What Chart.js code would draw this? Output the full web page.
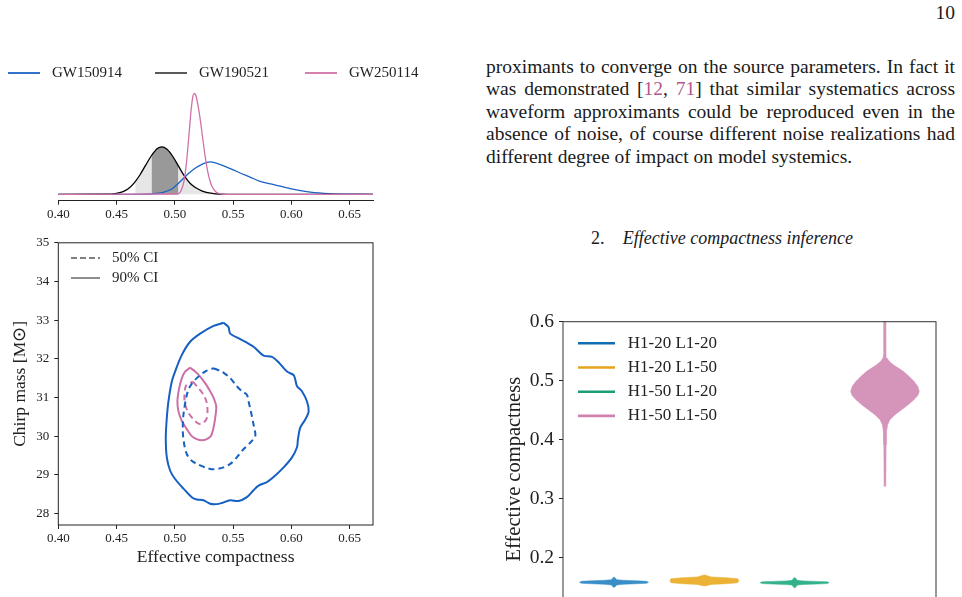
<!DOCTYPE html>
<html>
<head>
<meta charset="utf-8">
<script src="https://cdn.jsdelivr.net/npm/chart.js@4.4.1/dist/chart.umd.min.js"></script>
<style>
html, body { margin: 0; padding: 0; background: #fff; width: 962px; height: 597px; overflow: hidden; }
canvas { position: absolute; }
.txt { position: absolute; font-family: 'Liberation Serif', serif; color: #1a1a1a; white-space: nowrap; }
.para { position: absolute; left: 486px; top: 55.8px; width: 469px; font-family: 'Liberation Serif', serif; font-size: 19.5px; line-height: 22.5px; color: #1a1a1a; }
.para div { text-align: justify; text-align-last: justify; white-space: nowrap; }
.para div.last { text-align-last: left; }
.cite { color: #b5578f; }
</style>
</head>
<body>

<div class="txt" style="left:900px; top:2.2px; width:55px; text-align:right; font-size:19.5px; line-height:22.4px;">10</div>

<div class="para">
  <div>proximants to converge on the source parameters. In fact it</div>
  <div>was demonstrated [<span class="cite">12</span>, <span class="cite">71</span>] that similar systematics across</div>
  <div>waveform approximants could be reproduced even in the</div>
  <div>absence of noise, of course different noise realizations had</div>
  <div class="last">different degree of impact on model systemics.</div>
</div>

<div class="txt" style="left:591px; top:228.3px; font-size:18px; line-height:21.6px;">2.<span style="position:absolute; left:31.7px; font-style:italic;">Effective compactness inference</span></div>

<canvas id="dens" width="440" height="190" style="left:0; top:40px; width:440px; height:190px;"></canvas>
<canvas id="cont" width="400" height="340" style="left:0; top:230px; width:400px; height:340px;"></canvas>
<canvas id="viol" width="482" height="340" style="left:480px; top:300px; width:482px; height:340px;"></canvas>

<script>
// ---- marginal densities of effective compactness (arbitrary units) ----
const events = ['GW150914', 'GW190521', 'GW250114'];
const eventColors = ['#1a62c4', '#000000', '#d071a8'];

const densX_GW150914 = [0.40, 0.470, 0.480, 0.490, 0.497, 0.504, 0.511, 0.518, 0.524, 0.530, 0.536, 0.542, 0.550, 0.556, 0.564, 0.573, 0.585, 0.599, 0.613, 0.628, 0.645, 0.67];
const densY_GW150914 = [0, 0, 0.5, 2, 5, 12, 20, 26.5, 30.5, 32.5, 31, 28.5, 24.5, 21.3, 17.5, 13, 9.7, 5.7, 2.7, 1, 0.2, 0];

const densX_GW190521 = [0.40, 0.440, 0.450, 0.455, 0.460, 0.465, 0.470, 0.475, 0.480, 0.485, 0.4888, 0.493, 0.498, 0.503, 0.508, 0.513, 0.518, 0.523, 0.528, 0.535, 0.545, 0.67];
const densY_GW190521 = [0, 0.1, 1.0, 2.5, 5.6, 11.2, 19.3, 29.2, 38.8, 45.8, 47.5, 45.4, 38.3, 28.4, 18.6, 11, 6.5, 3.5, 1.6, 0.5, 0, 0];

const densX_GW250114 = [0.40, 0.502, 0.505, 0.508, 0.510, 0.512, 0.514, 0.5155, 0.5165, 0.518, 0.520, 0.522, 0.524, 0.526, 0.528, 0.530, 0.532, 0.535, 0.538, 0.542, 0.67];
const densY_GW250114 = [0, 0.3, 2.8, 14, 32, 58, 85, 98, 101, 99, 88, 73, 55, 38, 24, 14, 7.5, 2.5, 0.7, 0, 0];

// shaded credible regions under GW190521
const shade90X = [0.466, 0.470, 0.475, 0.480, 0.485, 0.4888, 0.493, 0.498, 0.503, 0.508, 0.513, 0.518, 0.523, 0.528, 0.535, 0.545];
const shade90Y = [12.8, 19.3, 29.2, 38.8, 45.8, 47.5, 45.4, 38.3, 28.4, 18.6, 11, 6.5, 3.5, 1.6, 0.5, 0];
const shade50X = [0.480, 0.485, 0.4888, 0.493, 0.498, 0.503];
const shade50Y = [38.8, 45.8, 47.5, 45.4, 38.3, 28.4];

const compTicks = [0.40, 0.45, 0.50, 0.55, 0.60, 0.65];

// ---- 2D credible contours: effective compactness vs chirp mass ----
const ci90X_GW150914 = [0.5418, 0.5460, 0.5475, 0.5561, 0.5675, 0.5761, 0.5833, 0.5890, 0.5962, 0.6019, 0.6033, 0.6048, 0.6090, 0.6133, 0.6148, 0.6119, 0.6076, 0.6056, 0.6048, 0.6005, 0.5933, 0.5847, 0.5790, 0.5718, 0.5675, 0.5618, 0.5546, 0.5475, 0.5403, 0.5360, 0.5303, 0.5246, 0.5188, 0.5145, 0.5074, 0.5002, 0.4959, 0.4931, 0.4922, 0.4931, 0.4945, 0.4974, 0.5002, 0.5060, 0.5131, 0.5217, 0.5332];
const ci90Y_GW150914 = [32.93, 32.82, 32.65, 32.51, 32.31, 32.08, 32.05, 31.91, 31.67, 31.58, 31.46, 31.29, 31.16, 30.90, 30.64, 30.43, 30.22, 29.92, 29.71, 29.45, 29.19, 28.94, 28.81, 28.72, 28.60, 28.42, 28.32, 28.34, 28.27, 28.24, 28.25, 28.34, 28.36, 28.42, 28.64, 28.89, 29.11, 29.45, 29.96, 30.47, 30.90, 31.41, 31.67, 32.10, 32.44, 32.65, 32.85];

const ci50X_GW150914 = [0.5332, 0.5403, 0.5475, 0.5532, 0.5575, 0.5618, 0.5632, 0.5652, 0.5675, 0.5690, 0.5647, 0.5589, 0.5532, 0.5475, 0.5418, 0.5332, 0.5260, 0.5203, 0.5145, 0.5103, 0.5080, 0.5068, 0.5074, 0.5103, 0.5131, 0.5188, 0.5260];
const ci50Y_GW150914 = [31.755, 31.67, 31.50, 31.29, 31.16, 31.07, 30.90, 30.64, 30.30, 30.00, 29.83, 29.66, 29.45, 29.28, 29.19, 29.14, 29.19, 29.26, 29.36, 29.53, 29.79, 30.13, 30.56, 31.07, 31.29, 31.50, 31.67];

const ci90X_GW250114 = [0.5131, 0.5174, 0.5217, 0.5260, 0.5303, 0.5332, 0.5355, 0.5346, 0.5332, 0.5309, 0.5274, 0.5231, 0.5188, 0.5145, 0.5103, 0.5060, 0.5031, 0.5022, 0.5037, 0.5060, 0.5088];
const ci90Y_GW250114 = [31.77, 31.67, 31.54, 31.37, 31.16, 30.99, 30.77, 30.47, 30.22, 30.00, 29.92, 29.89, 29.92, 30.00, 30.18, 30.39, 30.64, 30.90, 31.24, 31.50, 31.67];

const ci50X_GW250114 = [0.5154, 0.5203, 0.5246, 0.5274, 0.5280, 0.5269, 0.5231, 0.5203, 0.5160, 0.5117, 0.5088, 0.5082, 0.5097];
const ci50Y_GW250114 = [31.41, 31.24, 31.07, 30.86, 30.60, 30.43, 30.32, 30.32, 30.43, 30.60, 30.82, 31.07, 31.31];

const chirpTicks = [28, 29, 30, 31, 32, 33, 34, 35];

// ---- violins: effective compactness per detector configuration ----
const configs = ['H1-20 L1-20', 'H1-20 L1-50', 'H1-50 L1-20', 'H1-50 L1-50'];
const configPos = [0, 1, 2, 3];
const lineColors = ['#0f6db0', '#e6a31c', '#1c9e78', '#cf82b0'];
const fillColors = ['#3a8ec8', '#ecb236', '#33b18b', '#d594b9'];

const violinY_H20L20 = [0.1498, 0.1538, 0.1548, 0.1558, 0.1566, 0.1583, 0.1600, 0.1608, 0.1618, 0.1628, 0.1668];
const violinW_H20L20 = [0.006, 0.03, 0.10, 0.25, 0.36, 0.382, 0.36, 0.25, 0.10, 0.03, 0.006];
const violinY_H20L50 = [0.1522, 0.1547, 0.1559, 0.1576, 0.1610, 0.1644, 0.1661, 0.1673, 0.1707];
const violinW_H20L50 = [0.006, 0.08, 0.25, 0.37, 0.382, 0.37, 0.25, 0.08, 0.006];
const violinY_H50L20 = [0.1491, 0.1536, 0.1546, 0.1554, 0.1561, 0.1576, 0.1591, 0.1598, 0.1606, 0.1616, 0.1661];
const violinW_H50L20 = [0.006, 0.03, 0.10, 0.25, 0.36, 0.382, 0.36, 0.25, 0.10, 0.03, 0.006];
const violinY_H50L50 = [0.321, 0.3916, 0.4142, 0.4255, 0.4340, 0.4424, 0.4509, 0.4594, 0.4678, 0.4752, 0.4820, 0.4905, 0.4989, 0.5074, 0.5159, 0.5215, 0.5272, 0.5328, 0.5385, 0.5498, 0.63];
const violinW_H50L50 = [0.010, 0.013, 0.018, 0.030, 0.055, 0.111, 0.185, 0.258, 0.321, 0.365, 0.380, 0.362, 0.321, 0.266, 0.203, 0.148, 0.092, 0.048, 0.022, 0.012, 0.011];

const effTicks = [0.2, 0.3, 0.4, 0.5, 0.6];

// ---------------------------------------------------------------
const serif = 'Liberation Serif';
const ink = '#222';

const pts = (xs, ys) => xs.map((x, i) => ({x: x, y: ys[i]}));
const closed = (xs, ys) => { const p = pts(xs, ys); return p.concat([p[0]]); };

// little legend drawn with a line sample + text
const lineLegend = {
  id: 'lineLegend',
  afterDraw(chart, args, opts) {
    const ctx = chart.ctx;
    ctx.save();
    ctx.font = opts.font;
    ctx.textBaseline = 'middle';
    opts.items.forEach(it => {
      ctx.beginPath();
      ctx.strokeStyle = it.color;
      ctx.lineWidth = it.width;
      ctx.setLineDash(it.dash || []);
      ctx.moveTo(it.x, it.y);
      ctx.lineTo(it.x + opts.lineLen, it.y);
      ctx.stroke();
      ctx.setLineDash([]);
      ctx.fillStyle = '#222';
      ctx.fillText(it.text, it.x + opts.lineLen + opts.gap, it.y);
    });
    ctx.restore();
  }
};

// full box around the plot area (matplotlib spines)
const frame = {
  id: 'frame',
  afterDatasetsDraw(chart, args, opts) {
    const a = chart.chartArea, ctx = chart.ctx;
    ctx.save();
    ctx.strokeStyle = opts.color || ink;
    ctx.lineWidth = 1;
    ctx.strokeRect(a.left, a.top, a.right - a.left, a.bottom - a.top);
    ctx.restore();
  }
};

const setTicks = arr => (s => { s.ticks = arr.map(v => ({value: v})); });

// ---- chart 1: densities (pink on top, shading underneath) ----
const densSets = [
  {label: events[0], data: pts(densX_GW150914, densY_GW150914), borderColor: eventColors[0], borderWidth: 1.3, order: 2},
  {label: events[1], data: pts(densX_GW190521, densY_GW190521), borderColor: eventColors[1], borderWidth: 1.3, order: 1},
  {label: events[2], data: pts(densX_GW250114, densY_GW250114), borderColor: eventColors[2], borderWidth: 1.3, order: 0},
  {label: '50%', data: pts(shade50X, shade50Y), borderWidth: 0, backgroundColor: '#999999', fill: 'origin', order: 3},
  {label: '90%', data: pts(shade90X, shade90Y), borderWidth: 0, backgroundColor: '#e6e6e6', fill: 'origin', order: 4}
].map(d => Object.assign({showLine: true, pointRadius: 0, cubicInterpolationMode: 'monotone', fill: false}, d));

new Chart(document.getElementById('dens'), {
  type: 'scatter',
  data: {datasets: densSets},
  plugins: [lineLegend],
  options: {
    responsive: false, animation: false, devicePixelRatio: 1,
    layout: {padding: {left: 58.3, top: 46.3, right: 67, bottom: 0}},
    plugins: {
      legend: {display: false}, tooltip: {enabled: false},
      lineLegend: {
        font: '15px "Liberation Serif"', lineLen: 32, gap: 12,
        items: [
          {text: events[0], color: eventColors[0], width: 1.8, x: 8, y: 33},
          {text: events[1], color: eventColors[1], width: 1.3, x: 155, y: 33},
          {text: events[2], color: eventColors[2], width: 1.8, x: 305, y: 33}
        ]
      }
    },
    scales: {
      x: {
        type: 'linear', min: 0.40, max: 0.67,
        afterBuildTicks: setTicks(compTicks),
        afterFit: s => { s.height = 29.3; },
        ticks: {font: {family: serif, size: 13}, color: ink, padding: 2, maxRotation: 0, callback: v => v.toFixed(2)},
        grid: {drawOnChartArea: false, tickLength: 4, color: ink},
        border: {display: true, color: ink}
      },
      y: {display: false, min: -6.4, max: 108}
    }
  }
});

// ---- chart 2: contours ----
const contSets = [
  {data: closed(ci90X_GW150914, ci90Y_GW150914), borderColor: '#1560c2', borderDash: []},
  {data: closed(ci50X_GW150914, ci50Y_GW150914), borderColor: '#1560c2', borderDash: [6, 4]},
  {data: closed(ci90X_GW250114, ci90Y_GW250114), borderColor: '#cc70a8', borderDash: []},
  {data: closed(ci50X_GW250114, ci50Y_GW250114), borderColor: '#cc70a8', borderDash: [6, 4]}
].map(d => Object.assign({showLine: true, pointRadius: 0, borderWidth: 2, tension: 0.3, fill: false}, d));

new Chart(document.getElementById('cont'), {
  type: 'scatter',
  data: {datasets: contSets},
  plugins: [lineLegend, frame],
  options: {
    responsive: false, animation: false, devicePixelRatio: 1,
    layout: {padding: {left: 0, top: 10, right: 27, bottom: 0}},
    plugins: {
      legend: {display: false}, tooltip: {enabled: false},
      frame: {color: ink},
      lineLegend: {
        font: '15px "Liberation Serif"', lineLen: 29, gap: 12,
        items: [
          {text: '50% CI', color: '#808080', width: 1.8, dash: [6, 3], x: 71, y: 28},
          {text: '90% CI', color: '#808080', width: 1.8, x: 71, y: 48}
        ]
      }
    },
    scales: {
      x: {
        type: 'linear', min: 0.40, max: 0.67,
        afterBuildTicks: setTicks(compTicks),
        afterFit: s => { s.height = 45; },
        ticks: {font: {family: serif, size: 13}, color: ink, padding: 2, maxRotation: 0, callback: v => v.toFixed(2)},
        grid: {drawOnChartArea: false, tickLength: 4, color: ink},
        border: {display: false},
        title: {display: true, text: 'Effective compactness', color: ink, font: {family: serif, size: 17.5}, padding: {top: 0, bottom: 2.5}}
      },
      y: {
        type: 'linear', min: 27.7, max: 35,
        afterBuildTicks: setTicks(chirpTicks),
        afterFit: s => { s.width = 58.3; },
        ticks: {font: {family: serif, size: 13}, color: ink, padding: 5},
        grid: {drawOnChartArea: false, tickLength: 4, color: ink},
        border: {display: false},
        title: {display: true, text: 'Chirp mass [M⊙]', color: ink, font: {family: serif, size: 17.5}, padding: {top: 9.5, bottom: 0}}
      }
    }
  }
});

// ---- chart 3: violins ----
const violinYs = [violinY_H20L20, violinY_H20L50, violinY_H50L20, violinY_H50L50];
const violinWs = [violinW_H20L20, violinW_H20L50, violinW_H50L20, violinW_H50L50];
const violinSets = configs.map((name, i) => {
  const ys = violinYs[i], ws = violinWs[i], p = configPos[i];
  const right = ys.map((y, k) => ({x: p + ws[k], y: y}));
  const left = ys.map((y, k) => ({x: p - ws[k], y: y})).reverse();
  const poly = right.concat(left);
  poly.push(poly[0]);
  return {label: name, data: poly, showLine: true, pointRadius: 0, borderWidth: 0.5,
          borderColor: fillColors[i], backgroundColor: fillColors[i], fill: 'shape', tension: 0};
});

new Chart(document.getElementById('viol'), {
  type: 'scatter',
  data: {datasets: violinSets},
  plugins: [lineLegend, frame],
  options: {
    responsive: false, animation: false, devicePixelRatio: 1,
    layout: {padding: {left: 0, top: 21.7, right: 26, bottom: 23.3}},
    plugins: {
      legend: {display: false}, tooltip: {enabled: false},
      frame: {color: '#333'},
      lineLegend: {
        font: '17px "Liberation Serif"', lineLen: 37, gap: 12.7,
        items: configs.map((c, i) => ({text: c, color: lineColors[i], width: 2.6, x: 98, y: 43.3 + i * 24.2}))
      }
    },
    scales: {
      x: {type: 'linear', min: -0.565, max: 3.565, display: false},
      y: {
        type: 'linear', min: 0.1, max: 0.6,
        afterBuildTicks: setTicks(effTicks),
        afterFit: s => { s.width = 83; },
        ticks: {font: {family: serif, size: 19.5}, color: ink, padding: 5, callback: v => v.toFixed(1)},
        grid: {drawOnChartArea: false, tickLength: 4, color: ink},
        border: {display: false},
        title: {display: true, text: 'Effective compactness', color: ink, font: {family: serif, size: 20.5}, padding: {top: 22.7, bottom: 0}}
      }
    }
  }
});
</script>
</body>
</html>
